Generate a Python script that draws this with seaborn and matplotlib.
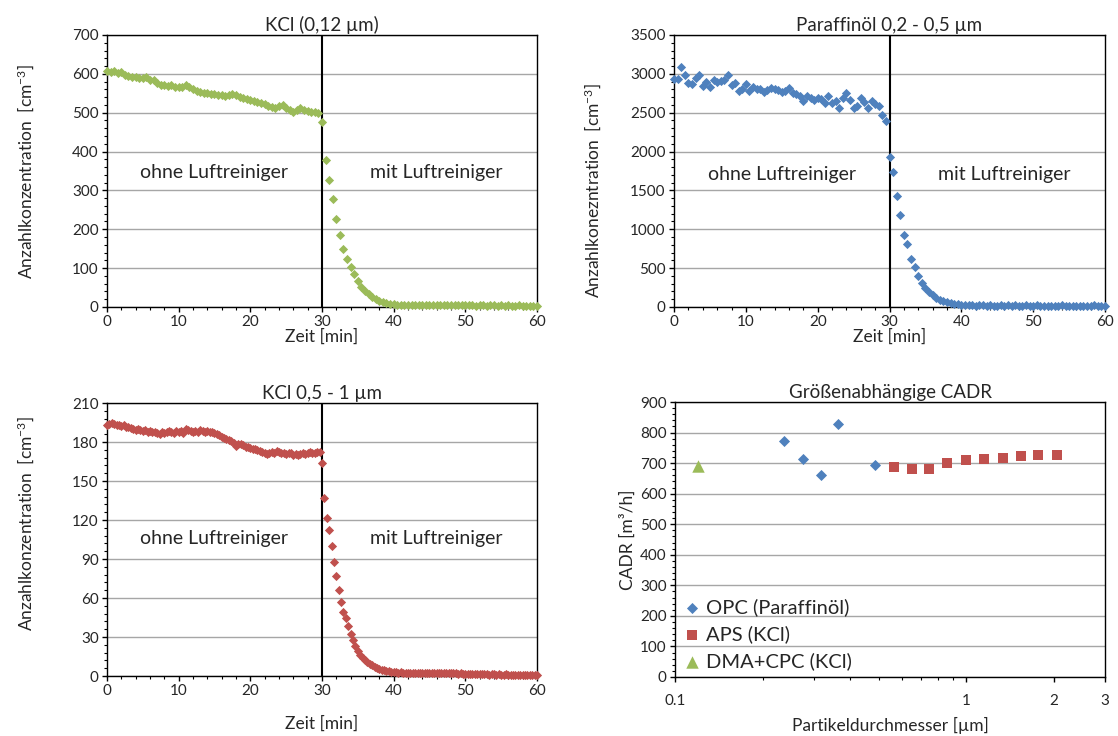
import numpy as np
import pandas as pd
import matplotlib
matplotlib.use("Agg")
import matplotlib.pyplot as plt
import seaborn as sns
from matplotlib.ticker import MultipleLocator, FixedLocator, FixedFormatter, NullFormatter

sns.set_style("white")
plt.rcParams['font.family'] = ['Lato', 'DejaVu Sans']
plt.rcParams['mathtext.fontset'] = 'custom'
plt.rcParams['mathtext.rm'] = 'Lato'
plt.rcParams['mathtext.it'] = 'Lato:italic'

# ---------------- data ----------------
step_green = 0.5   # min
step_blue = 0.5    # min
step_red = 1 / 3   # min

kcl_012 = [
    607, 604, 606, 603, 605, 598, 594, 592, 593, 590,
    589, 591, 585, 583, 577, 572, 571, 569, 570, 567,
    567, 566, 572, 566, 560, 557, 554, 551, 550, 548,
    549, 546, 545, 543, 546, 547, 545, 541, 537, 535,
    532, 530, 527, 524, 522, 518, 514, 512, 516, 520,
    511, 506, 503, 508, 512, 506, 504, 503, 501, 500,
    475, 378, 327, 277, 226, 184, 150, 124, 104, 85,
    66, 52, 42, 33, 26, 20, 15, 12, 10, 8, 7,
    6, 6, 5, 6, 5, 5, 6, 5, 5, 4,
    5, 5, 4, 5, 4, 4, 5, 4, 4, 5,
    4, 4, 3, 4, 4, 3, 4, 4, 3, 4,
    3, 4, 3, 3, 4, 3, 3, 2, 3, 2,
]

paraffin = [
    2930, 2930, 3090, 2990, 2880, 2870, 2940, 2985, 2845, 2900,
    2836, 2922, 2900, 2910, 2925, 2990, 2860, 2880, 2785, 2800,
    2870, 2775, 2830, 2810, 2800, 2760, 2790, 2815, 2800, 2790,
    2770, 2780, 2815, 2750, 2740, 2715, 2645, 2710, 2690, 2665,
    2690, 2680, 2630, 2710, 2620, 2650, 2560, 2690, 2750, 2665,
    2560, 2580, 2690, 2640, 2560, 2645, 2610, 2590, 2470, 2390,
    1935, 1733, 1431, 1181, 922, 815, 612, 513, 397, 310,
    246, 190, 150, 115, 90, 73, 58, 48, 38, 32, 28,
    30, 22, 25, 18, 28, 20, 15, 24, 18, 12,
    22, 16, 25, 14, 20, 18, 10, 22, 15, 12,
    20, 14, 8, 18, 12, 16, 10, 20, 14, 8,
    15, 12, 18, 10, 14, 8, 20, 12, 10, 15,
]

kcl_05_1 = [
    193.0, 193.6, 194.4, 194.2, 193.1, 192.8, 192.4, 192.9, 191.6,
    191.8, 190.9, 190.2, 189.4, 190.3, 189.6, 188.7, 189.2, 187.8,
    188.4, 187.5, 188.1, 186.8, 186.2, 187.4, 186.9, 187.8, 188.6,
    187.5, 187.0, 188.3, 187.9, 188.4, 187.2, 190.1, 189.4, 188.2,
    187.6, 188.7, 187.9, 189.2, 188.5, 187.8, 188.8, 187.4, 187.9,
    186.6, 186.0, 185.1, 184.2, 183.3, 182.6, 181.4, 180.9, 179.6,
    177.2, 178.4, 178.8, 177.6, 176.2, 175.8, 175.4, 174.6, 174.9,
    173.8, 173.1, 172.4, 171.2, 170.6, 171.8, 172.2, 171.5, 172.9,
    172.6, 171.9, 171.3, 170.8, 171.6, 171.4, 170.4, 171.1, 170.2,
    170.9, 171.3, 170.6, 171.5, 172.0, 171.2, 171.8, 172.4, 172.7,
    163.5, 137.2, 121.8, 112.3, 100.0, 87.9, 76.9, 66.2, 57.2, 49.5,
    44.9, 38.5, 32.0, 27.5, 23.0, 19.6, 16.4, 14.1, 12.2, 10.6,
    9.3, 8.2, 7.1, 6.3, 5.5, 4.9, 4.4, 3.9, 3.6, 3.3, 3.0,
    2.9, 2.7, 2.8, 2.6, 2.5, 2.7, 2.4, 2.6, 2.5, 2.3,
    2.6, 2.4, 2.5, 2.2, 2.4, 2.5, 2.3, 2.1, 2.4, 2.2,
    2.3, 2.0, 2.2, 2.4, 2.1, 2.0, 1.9, 2.1, 1.8, 1.6,
    1.5, 1.4, 1.5, 1.3, 1.4, 1.2, 1.3, 1.4, 1.2, 1.1,
    1.3, 1.2, 1.1, 1.2, 1.0, 1.1, 1.2, 1.0, 1.1, 0.9,
    1.0, 1.1, 0.9, 1.0, 1.0, 0.9, 1.1, 0.9, 1.0, 1.0,
]

t_green = np.arange(len(kcl_012)) * step_green
t_blue = np.arange(len(paraffin)) * step_blue
t_red = np.arange(len(kcl_05_1)) * step_red

# CADR (size dependent)
opc_d = [0.237, 0.275, 0.318, 0.364, 0.488]
opc_cadr = [773, 713, 662, 829, 694]
aps_d = [0.564, 0.652, 0.746, 0.862, 1.0, 1.156, 1.337, 1.546, 1.769, 2.045]
aps_cadr = [686, 681, 681, 699, 709, 714, 718, 723, 727, 727]
dma_d = [0.12]
dma_cadr = [689]

GREEN = '#9BBB59'
BLUE = '#4F81BD'
RED = '#C0504D'
GRID = '#a6a6a6'

TICK_FS = 11
LABEL_FS = 12.5
TITLE_FS = 13.5
NOTE_FS = 14

fig = plt.figure(figsize=(11.18, 7.36), dpi=100)
ax_tl = fig.add_axes([0.0957, 0.5829, 0.3846, 0.3696])
ax_tr = fig.add_axes([0.6029, 0.5829, 0.3855, 0.3696])
ax_bl = fig.add_axes([0.0957, 0.0815, 0.3846, 0.3709])
ax_br = fig.add_axes([0.6038, 0.0802, 0.3846, 0.3736])


def style_axes(ax):
    for sp in ax.spines.values():
        sp.set_visible(True)
        sp.set_color('black')
        sp.set_linewidth(1.0)
    ax.set_axisbelow(True)
    ax.yaxis.grid(True, color=GRID, linewidth=1.0)
    ax.xaxis.grid(False)
    ax.tick_params(which='major', direction='out', length=3.5, width=1, color='black',
                   labelsize=TICK_FS, pad=2.5, left=True, bottom=True, top=False, right=False)
    ax.tick_params(which='minor', direction='out', length=2.5, width=0.8, color='black',
                   left=True, bottom=True, top=False, right=False)


def time_panel(ax, t, vals, color, ymax, ystep, yminor, title, ylabel, note_y):
    sns.scatterplot(x=t, y=vals, ax=ax, marker='D', s=22, color=color,
                    linewidth=0, legend=False, zorder=3)
    for c in ax.collections:
        c.set_clip_on(False)
    ax.axvline(30, color='black', linewidth=1.5, zorder=2)
    ax.set_xlim(0, 60)
    ax.set_ylim(0, ymax)
    ax.xaxis.set_major_locator(MultipleLocator(10))
    ax.xaxis.set_minor_locator(MultipleLocator(2))
    ax.yaxis.set_major_locator(MultipleLocator(ystep))
    ax.yaxis.set_minor_locator(MultipleLocator(yminor))
    style_axes(ax)
    ax.set_title(title, fontsize=TITLE_FS, pad=3)
    ax.set_xlabel('Zeit [min]', fontsize=LABEL_FS)
    ax.set_ylabel(ylabel, fontsize=LABEL_FS)
    ax.text(15, note_y, 'ohne Luftreiniger', ha='center', va='center', fontsize=NOTE_FS)
    ax.text(46, note_y, 'mit Luftreiniger', ha='center', va='center', fontsize=NOTE_FS)


time_panel(ax_tl, t_green, kcl_012, GREEN, 700, 100, 20, 'KCl (0,12 µm)',
           r'Anzahlkonzentration  [cm$^{\mathregular{-3}}$]', 346)
time_panel(ax_tr, t_blue, paraffin, BLUE, 3500, 500, 100, 'Paraffinöl 0,2 - 0,5 µm',
           r'Anzahlkonezntration  [cm$^{\mathregular{-3}}$]', 1710)
time_panel(ax_bl, t_red, kcl_05_1, RED, 210, 30, 6, 'KCl 0,5 - 1 µm',
           r'Anzahlkonzentration  [cm$^{\mathregular{-3}}$]', 106)

ax_tl.yaxis.set_label_coords(-0.165, 0.5)
ax_tr.yaxis.set_label_coords(-0.165, 0.43)
ax_bl.yaxis.set_label_coords(-0.165, 0.56)
ax_tl.xaxis.set_label_coords(0.5, -0.078)
ax_tr.xaxis.set_label_coords(0.5, -0.078)
ax_bl.xaxis.set_label_coords(0.5, -0.145)

# ---------------- CADR panel ----------------
sns.scatterplot(x=opc_d, y=opc_cadr, ax=ax_br, marker='D', s=32, color=BLUE,
                linewidth=0, label='OPC (Paraffinöl)', zorder=3)
sns.scatterplot(x=aps_d, y=aps_cadr, ax=ax_br, marker='s', s=60, color=RED,
                linewidth=0, label='APS (KCl)', zorder=3)
sns.scatterplot(x=dma_d, y=dma_cadr, ax=ax_br, marker='^', s=80, color=GREEN,
                linewidth=0, label='DMA+CPC (KCl)', zorder=3)
ax_br.set_xscale('log')
ax_br.set_xlim(0.1, 3)
ax_br.set_ylim(0, 900)
ax_br.yaxis.set_major_locator(MultipleLocator(100))
ax_br.yaxis.set_minor_locator(MultipleLocator(20))
ax_br.xaxis.set_major_locator(FixedLocator([0.1, 1, 2, 3]))
ax_br.xaxis.set_major_formatter(FixedFormatter(['0.1', '1', '2', '3']))
ax_br.xaxis.set_minor_locator(FixedLocator([0.2, 0.3, 0.4, 0.5, 0.6, 0.7, 0.8, 0.9]))
ax_br.xaxis.set_minor_formatter(NullFormatter())
style_axes(ax_br)
ax_br.tick_params(axis='x', which='major', pad=9)
ax_br.set_title('Größenabhängige CADR', fontsize=TITLE_FS, pad=3)
ax_br.set_xlabel('Partikeldurchmesser [µm]', fontsize=LABEL_FS)
ax_br.set_ylabel('CADR [m³/h]', fontsize=LABEL_FS)
ax_br.xaxis.set_label_coords(0.5, -0.145)
ax_br.yaxis.set_label_coords(-0.092, 0.5)
leg = ax_br.legend(loc='lower left', bbox_to_anchor=(0.0, 0.0), frameon=False,
                   fontsize=14.5, handlelength=1.0, handletextpad=0.2,
                   labelspacing=0.45, borderaxespad=0.15, borderpad=0.2)

fig.savefig('out.png', dpi=100)
